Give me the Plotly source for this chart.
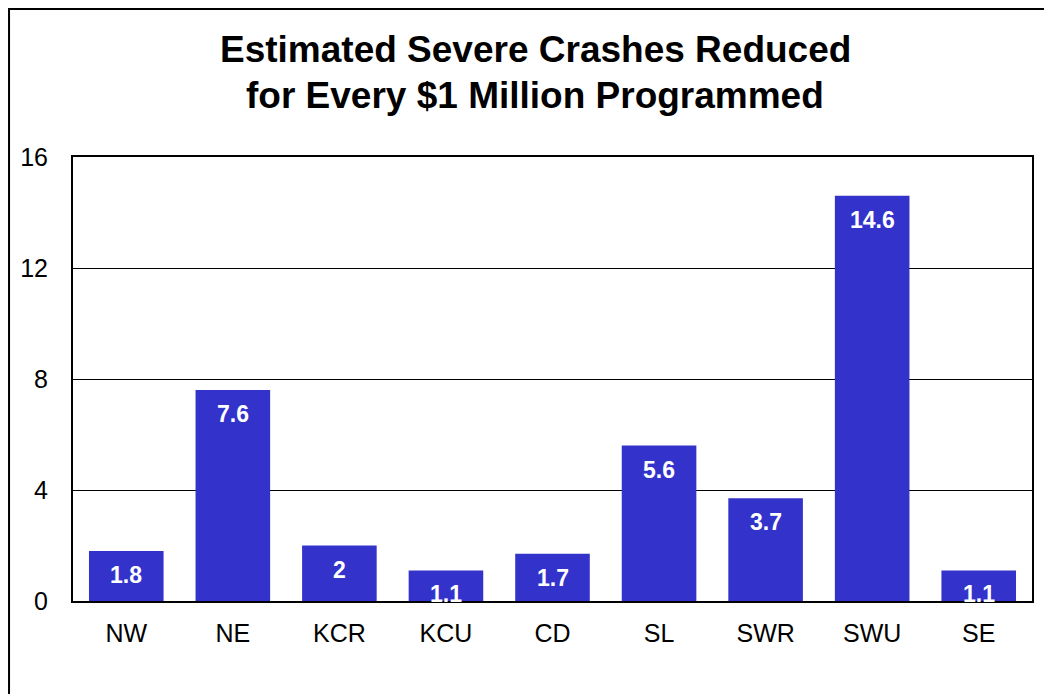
import plotly.graph_objects as go

regions = ["NW", "NE", "KCR", "KCU", "CD", "SL", "SWR", "SWU", "SE"]
crashes_reduced = [1.8, 7.6, 2, 1.1, 1.7, 5.6, 3.7, 14.6, 1.1]
y_ticks = [0, 4, 8, 12, 16]
title_lines = ["Estimated Severe Crashes Reduced", "for Every $1 Million Programmed"]

BAR_COLOR = "#3333CC"
FONT = "Liberation Sans, Arial, sans-serif"

fig = go.Figure()
fig.add_trace(go.Bar(
    x=regions, y=crashes_reduced,
    marker=dict(color=BAR_COLOR, line=dict(width=0)),
    width=0.7,
    hoverinfo="x+y",
))

for r, v in zip(regions, crashes_reduced):
    fig.add_annotation(
        x=r, y=v, xref="x", yref="y", text=f"<b>{v:g}</b>",
        showarrow=False, yanchor="middle", yshift=-24,
        font=dict(family=FONT, size=23, color="white"),
    )

for line, ypos in zip(title_lines, [1.241, 1.1396]):
    fig.add_annotation(
        xref="paper", yref="paper", x=0.4818, y=ypos, xanchor="center", yanchor="middle",
        text=f"<b>{line}</b>", showarrow=False,
        font=dict(family=FONT, size=37, color="black"),
    )

# outer frame
fig.add_shape(type="rect", xref="paper", yref="paper",
              x0=-0.0667, x1=1.05, y0=-0.3, y1=1.3333,
              line=dict(color="black", width=2), fillcolor="rgba(0,0,0,0)", layer="above")

fig.update_layout(
    width=1052, height=694,
    margin=dict(l=65, r=28, t=149, b=101, autoexpand=False),
    paper_bgcolor="white", plot_bgcolor="white",
    showlegend=False,
    font=dict(family=FONT, color="black"),
    bargap=0.3,
)
fig.update_yaxes(
    range=[0, 16], tickvals=y_ticks, ticktext=[str(t) for t in y_ticks],
    showgrid=True, gridcolor="black", gridwidth=1,
    showline=True, linecolor="black", linewidth=2, mirror=True,
    ticks="", ticklabelstandoff=18, tickfont=dict(size=25, family=FONT),
    zeroline=False, fixedrange=True, automargin=False,
)
fig.update_xaxes(
    showline=True, linecolor="black", linewidth=2, mirror=True,
    ticks="", ticklabelstandoff=9, tickfont=dict(size=25, family=FONT),
    showgrid=False, fixedrange=True, automargin=False,
)

fig.write_html("out.html")
